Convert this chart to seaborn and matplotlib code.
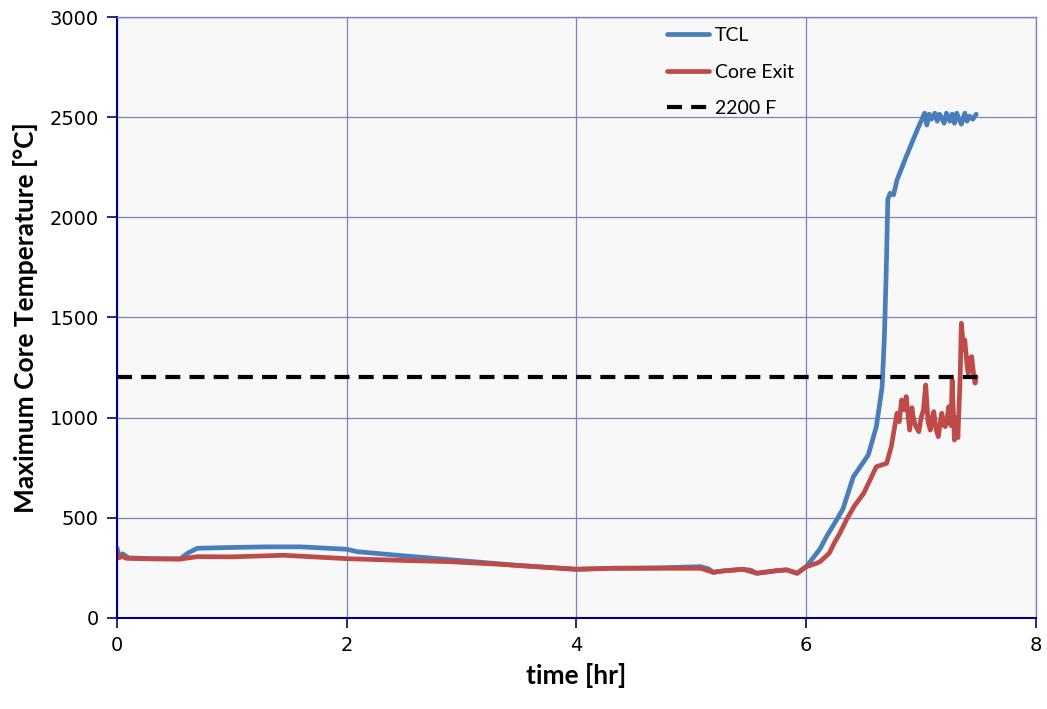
import matplotlib
matplotlib.use('Agg')
import matplotlib.pyplot as plt
import seaborn as sns
import pandas as pd

# TCL curve (time in hr, temperature in degC)
tcl_time = [0.0, 0.02, 0.05, 0.1, 0.3, 0.55, 0.62, 0.7, 1.0, 1.3, 1.6, 2.0, 2.09,
            2.5, 3.0, 3.5, 4.0, 4.3, 4.7, 5.08, 5.15, 5.19, 5.28, 5.45, 5.52, 5.57,
            5.74, 5.83, 5.92, 6.0, 6.06, 6.12, 6.18, 6.27, 6.32, 6.41, 6.50, 6.54,
            6.61, 6.66, 6.68, 6.695, 6.71, 6.73, 6.76, 6.79, 6.87, 6.96, 7.03, 7.05,
            7.07, 7.09, 7.12, 7.14, 7.16, 7.18, 7.20, 7.22, 7.25, 7.27, 7.29, 7.31,
            7.33, 7.35, 7.38, 7.40, 7.42, 7.45, 7.48]
tcl_temp = [350, 305, 320, 300, 296, 295, 325, 348, 352, 355, 355, 343, 331,
            310, 286, 262, 243, 248, 250, 256, 245, 228, 235, 243, 238, 223,
            236, 240, 223, 256, 300, 345, 410, 495, 545, 705, 780, 814,
            955, 1150, 1400, 1700, 2090, 2120, 2112, 2186, 2303, 2428, 2520, 2461,
            2515, 2490, 2520, 2480, 2515, 2495, 2470, 2520, 2480, 2515, 2470, 2520,
            2490, 2465, 2520, 2480, 2505, 2490, 2515]

# Core exit curve
core_time = [0.0, 0.02, 0.04, 0.08, 0.3, 0.55, 0.7, 1.0, 1.45, 2.0, 2.5, 2.9,
             3.33, 4.0, 4.3, 5.08, 5.19, 5.28, 5.45, 5.57, 5.74, 5.83, 5.92, 6.0,
             6.09, 6.12, 6.2, 6.24, 6.29, 6.35, 6.42, 6.50, 6.61, 6.70, 6.74, 6.79,
             6.81, 6.83, 6.85, 6.87, 6.89, 6.90, 6.92, 6.93, 6.95, 6.98, 7.00, 7.02,
             7.04, 7.06, 7.08, 7.10, 7.11, 7.13, 7.15, 7.17, 7.18, 7.20, 7.21, 7.23,
             7.24, 7.26, 7.27, 7.29, 7.31, 7.32, 7.34, 7.35, 7.37, 7.38, 7.40, 7.41,
             7.43, 7.44, 7.46, 7.47, 7.48]
core_temp = [330, 300, 310, 298, 295, 294, 306, 305, 313, 296, 287, 281,
             268, 243, 248, 248, 228, 235, 243, 223, 236, 240, 223, 256,
             273, 281, 323, 370, 420, 490, 560, 622, 755, 772, 855, 1022,
             980, 1088, 1040, 1105, 990, 938, 1050, 1005, 960, 930, 1000, 1038,
             1163, 980, 938, 1010, 1030, 940, 905, 990, 1022, 960, 955, 1010,
             1055, 960, 1188, 888, 1000, 900, 1205, 1471, 1340, 1388, 1260, 1221,
             1300, 1305, 1200, 1172, 1205]

# 2200 F limit
limit_time = [0.0, 7.49]
limit_temp = [1204, 1204]

x_ticks = [0, 2, 4, 6, 8]
y_ticks = [0, 500, 1000, 1500, 2000, 2500, 3000]

blue = '#4a7ebb'
red = '#be4b48'
grid_c = '#8080c0'
navy = '#000080'

sns.set_theme(style='white')
plt.rcParams['font.family'] = ['DejaVu Sans']

fig = plt.figure(figsize=(10.47, 7.09), dpi=100)
ax = fig.add_axes([0.1117, 0.1284, 0.8778, 0.8476])
ax.set_facecolor('#f8f8f8')

tcl_df = pd.DataFrame({'time': tcl_time, 'temp': tcl_temp})
core_df = pd.DataFrame({'time': core_time, 'temp': core_temp})

sns.lineplot(data=tcl_df, x='time', y='temp', ax=ax, color=blue, lw=3.4,
             sort=False, estimator=None, label='TCL')
sns.lineplot(data=core_df, x='time', y='temp', ax=ax, color=red, lw=3.4,
             sort=False, estimator=None, label='Core Exit')
ax.plot(limit_time, limit_temp, color='black', lw=3.0, dashes=(3.6, 2.2),
        label='2200 F')

ax.set_xlim(0, 8)
ax.set_ylim(0, 3000)
ax.set_xticks(x_ticks)
ax.set_yticks(y_ticks)
ax.grid(True, color=grid_c, lw=0.9)
ax.set_axisbelow(True)

for side in ['left', 'bottom']:
    ax.spines[side].set_color(navy)
    ax.spines[side].set_linewidth(1.5)
for side in ['top', 'right']:
    ax.spines[side].set_color(grid_c)
    ax.spines[side].set_linewidth(1.0)

ax.tick_params(axis='both', direction='out', length=7, width=1.2, color=navy,
               labelsize=14, labelcolor='black', pad=6)
ax.tick_params(axis='x', bottom=True)
ax.tick_params(axis='y', left=True)

ax.set_xlabel('time [hr]', fontsize=19, fontweight='bold', color='black',
              family=['Lato', 'DejaVu Sans'], labelpad=6)
ax.set_ylabel('Maximum Core Temperature [°C]', fontsize=19, fontweight='bold',
              color='black', family=['Lato', 'DejaVu Sans'], labelpad=8)

leg = ax.legend(loc='upper left', bbox_to_anchor=(0.579, 1.012), frameon=False,
                handlelength=2.2, handletextpad=0.3, labelspacing=1.0,
                prop={'family': ['Lato', 'DejaVu Sans'], 'size': 14})
for t in leg.get_texts():
    t.set_color('black')

fig.savefig('out.png', dpi=100, facecolor='white')
